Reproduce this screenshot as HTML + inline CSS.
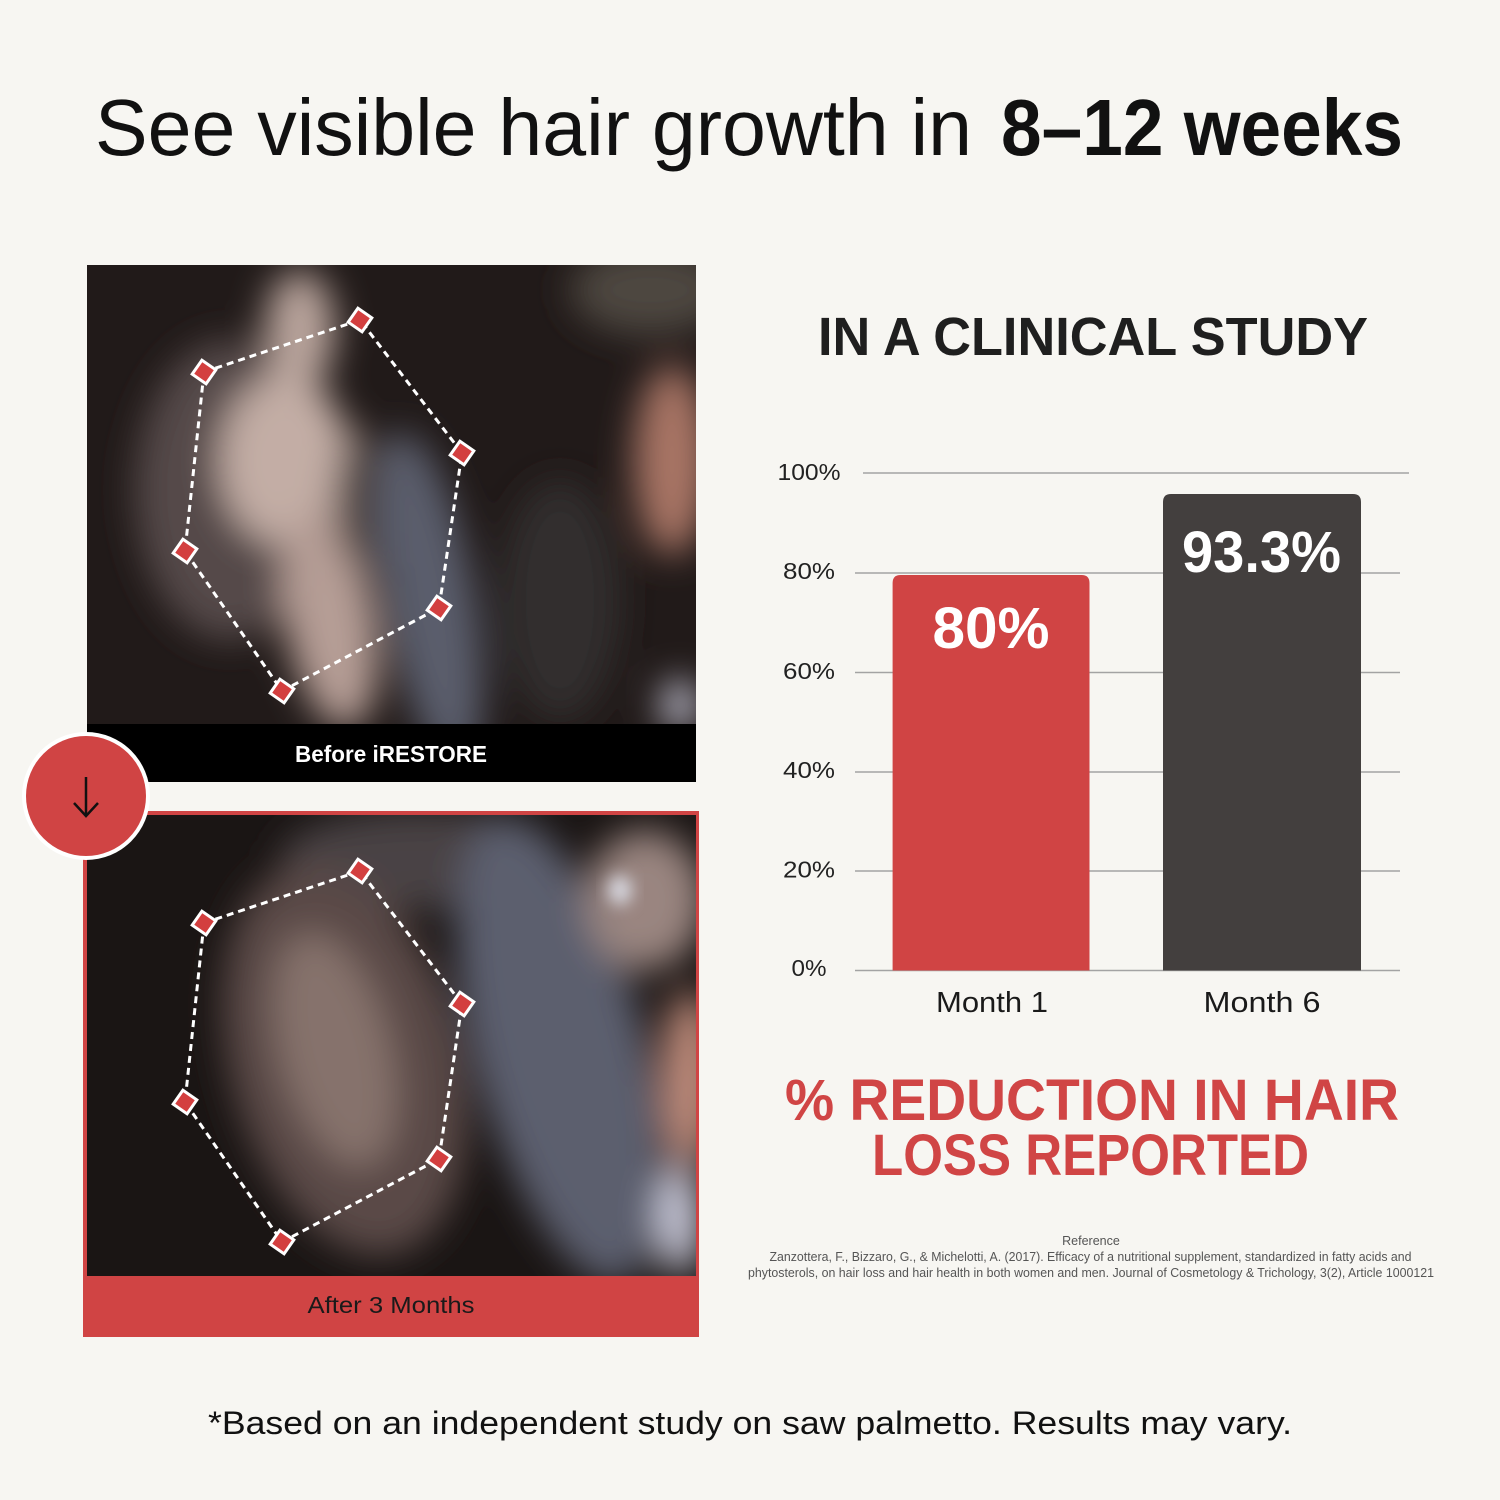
<!DOCTYPE html>
<html><head><meta charset="utf-8"><style>
html,body{margin:0;padding:0;background:#f7f6f2;}
svg{display:block;}
text{font-family:"Liberation Sans",Arial,sans-serif;}
</style></head><body>
<svg width="1500" height="1500" viewBox="0 0 1500 1500" xmlns="http://www.w3.org/2000/svg">
<defs>
<filter id="b1" x="-50%" y="-50%" width="200%" height="200%"><feGaussianBlur stdDeviation="18"/></filter>
<filter id="b2" x="-50%" y="-50%" width="200%" height="200%"><feGaussianBlur stdDeviation="8"/></filter>
<clipPath id="c1"><rect x="87" y="265" width="609" height="461"/></clipPath>
<clipPath id="c2"><rect x="87" y="815" width="609" height="461"/></clipPath>
</defs>
<rect width="1500" height="1500" fill="#f7f6f2"/>

<!-- Title -->
<text x="95" y="155" font-size="80" fill="#111" textLength="877" lengthAdjust="spacingAndGlyphs">See visible hair growth in</text>
<text x="1001" y="155" font-size="80" font-weight="bold" fill="#111" textLength="402" lengthAdjust="spacingAndGlyphs">8–12 weeks</text>

<!-- Top photo -->
<g clip-path="url(#c1)">
<rect x="87" y="265" width="609" height="461" fill="#211a19"/>
<g filter="url(#b1)">
<ellipse cx="650" cy="290" rx="80" ry="45" fill="#4d463f"/>
<ellipse cx="230" cy="490" rx="95" ry="150" fill="#54484a"/>
<ellipse cx="300" cy="330" rx="35" ry="60" fill="#b9a49c"/>
<ellipse cx="285" cy="460" rx="65" ry="85" fill="#c3ada5"/>
<ellipse cx="330" cy="620" rx="45" ry="110" fill="#b59d95" transform="rotate(-10 330 620)"/>
<ellipse cx="365" cy="500" rx="30" ry="70" fill="#4a3f3d"/>
<ellipse cx="430" cy="600" rx="45" ry="170" fill="#5a5d6c" transform="rotate(-10 430 600)"/>
<ellipse cx="560" cy="600" rx="60" ry="120" fill="#332d2e"/>
<ellipse cx="672" cy="460" rx="38" ry="95" fill="#a87565"/>
<ellipse cx="680" cy="705" rx="18" ry="25" fill="#c8c8d8"/>
</g>
</g>
<rect x="87" y="724" width="609" height="58" fill="#000"/>
<text x="391" y="762" font-size="23" font-weight="bold" fill="#fff" text-anchor="middle" textLength="192" lengthAdjust="spacingAndGlyphs">Before iRESTORE</text>
<polygon points="204,372 360,320 462,453 439,608 282,691 185,551" fill="none" stroke="#fff" stroke-width="3" stroke-dasharray="7 5"/>
<g fill="#d33f3f" stroke="#fff" stroke-width="3">
<rect x="-8.5" y="-8.5" width="17" height="17" transform="translate(204,372) rotate(35)"/>
<rect x="-8.5" y="-8.5" width="17" height="17" transform="translate(360,320) rotate(35)"/>
<rect x="-8.5" y="-8.5" width="17" height="17" transform="translate(462,453) rotate(35)"/>
<rect x="-8.5" y="-8.5" width="17" height="17" transform="translate(439,608) rotate(35)"/>
<rect x="-8.5" y="-8.5" width="17" height="17" transform="translate(282,691) rotate(35)"/>
<rect x="-8.5" y="-8.5" width="17" height="17" transform="translate(185,551) rotate(35)"/>
</g>

<!-- Bottom photo -->
<rect x="83" y="811" width="616" height="526" fill="#d04444"/>
<g clip-path="url(#c2)">
<rect x="87" y="815" width="609" height="461" fill="#1a1514"/>
<g filter="url(#b1)">
<ellipse cx="420" cy="860" rx="140" ry="50" fill="#4a4345"/>
<ellipse cx="345" cy="1060" rx="115" ry="200" fill="#5a4a46" transform="rotate(-15 345 1060)"/>
<ellipse cx="335" cy="1050" rx="55" ry="120" fill="#86726c" transform="rotate(-15 335 1050)"/>
<ellipse cx="560" cy="1050" rx="85" ry="240" fill="#5b5e6e" transform="rotate(-15 560 1050)"/>
<ellipse cx="645" cy="900" rx="60" ry="70" fill="#9a8580"/>
<ellipse cx="690" cy="1080" rx="28" ry="90" fill="#c08c7c"/>
<ellipse cx="680" cy="1220" rx="22" ry="55" fill="#c8c8d8"/>
</g>
<ellipse cx="620" cy="890" rx="12" ry="15" fill="#d8d8e0" filter="url(#b2)"/>
</g>
<text x="391" y="1313" font-size="23" fill="#1a1a1a" text-anchor="middle" textLength="167" lengthAdjust="spacingAndGlyphs">After 3 Months</text>
<polygon points="204,923 360,871 462,1004 439,1159 282,1242 185,1102" fill="none" stroke="#fff" stroke-width="3" stroke-dasharray="7 5"/>
<g fill="#d33f3f" stroke="#fff" stroke-width="3">
<rect x="-8.5" y="-8.5" width="17" height="17" transform="translate(204,923) rotate(35)"/>
<rect x="-8.5" y="-8.5" width="17" height="17" transform="translate(360,871) rotate(35)"/>
<rect x="-8.5" y="-8.5" width="17" height="17" transform="translate(462,1004) rotate(35)"/>
<rect x="-8.5" y="-8.5" width="17" height="17" transform="translate(439,1159) rotate(35)"/>
<rect x="-8.5" y="-8.5" width="17" height="17" transform="translate(282,1242) rotate(35)"/>
<rect x="-8.5" y="-8.5" width="17" height="17" transform="translate(185,1102) rotate(35)"/>
</g>

<!-- Arrow circle -->
<circle cx="86" cy="796" r="64" fill="#fff"/>
<circle cx="86" cy="796" r="60" fill="#d04444"/>
<line x1="86" y1="777" x2="86" y2="816" stroke="#111" stroke-width="2.5"/>
<polyline points="74,803 86,816 98,803" fill="none" stroke="#111" stroke-width="2.5"/>

<!-- Chart -->
<text x="818" y="355" font-size="54" font-weight="bold" fill="#1f1f1f" textLength="550" lengthAdjust="spacingAndGlyphs">IN A CLINICAL STUDY</text>
<g stroke="#a3a3a3" stroke-width="1.5">
<line x1="863" y1="473" x2="1409" y2="473"/>
<line x1="855" y1="573" x2="1400" y2="573"/>
<line x1="855" y1="672.5" x2="1400" y2="672.5"/>
<line x1="855" y1="772" x2="1400" y2="772"/>
<line x1="855" y1="871" x2="1400" y2="871"/>
<line x1="855" y1="970.5" x2="1400" y2="970.5"/>
</g>
<g font-size="23" fill="#222" text-anchor="middle">
<text x="809" y="480" textLength="63" lengthAdjust="spacingAndGlyphs">100%</text>
<text x="809" y="579" textLength="52" lengthAdjust="spacingAndGlyphs">80%</text>
<text x="809" y="679" textLength="52" lengthAdjust="spacingAndGlyphs">60%</text>
<text x="809" y="778" textLength="52" lengthAdjust="spacingAndGlyphs">40%</text>
<text x="809" y="877.5" textLength="52" lengthAdjust="spacingAndGlyphs">20%</text>
<text x="809" y="976" textLength="35" lengthAdjust="spacingAndGlyphs">0%</text>
</g>
<path d="M892.6,970.5 V583 Q892.6,575 900.6,575 H1081.5 Q1089.5,575 1089.5,583 V970.5 Z" fill="#d04444"/>
<path d="M1163,970.5 V502 Q1163,494 1171,494 H1353 Q1361,494 1361,502 V970.5 Z" fill="#433f3e"/>
<text x="991" y="648" font-size="58" font-weight="bold" fill="#fff" text-anchor="middle" textLength="117" lengthAdjust="spacingAndGlyphs">80%</text>
<text x="1261.5" y="572" font-size="58" font-weight="bold" fill="#fff" text-anchor="middle" textLength="159" lengthAdjust="spacingAndGlyphs">93.3%</text>
<text x="992" y="1012" font-size="29" fill="#1a1a1a" text-anchor="middle" textLength="112" lengthAdjust="spacingAndGlyphs">Month 1</text>
<text x="1262" y="1012" font-size="29" fill="#1a1a1a" text-anchor="middle" textLength="117" lengthAdjust="spacingAndGlyphs">Month 6</text>

<text x="785" y="1120" font-size="58" font-weight="bold" fill="#d04545" textLength="614" lengthAdjust="spacingAndGlyphs">% REDUCTION IN HAIR</text>
<text x="872" y="1175" font-size="58" font-weight="bold" fill="#d04545" textLength="437" lengthAdjust="spacingAndGlyphs">LOSS REPORTED</text>

<g font-size="12.5" fill="#555" text-anchor="middle">
<text x="1091" y="1245">Reference</text>
<text x="1090.5" y="1261" textLength="642" lengthAdjust="spacingAndGlyphs">Zanzottera, F., Bizzaro, G., &amp; Michelotti, A. (2017). Efficacy of a nutritional supplement, standardized in fatty acids and</text>
<text x="1091" y="1277" textLength="686" lengthAdjust="spacingAndGlyphs">phytosterols, on hair loss and hair health in both women and men. Journal of Cosmetology &amp; Trichology, 3(2), Article 1000121</text>
</g>

<text x="208" y="1434" font-size="32" fill="#111" textLength="1084" lengthAdjust="spacingAndGlyphs">*Based on an independent study on saw palmetto. Results may vary.</text>
</svg>
</body></html>
